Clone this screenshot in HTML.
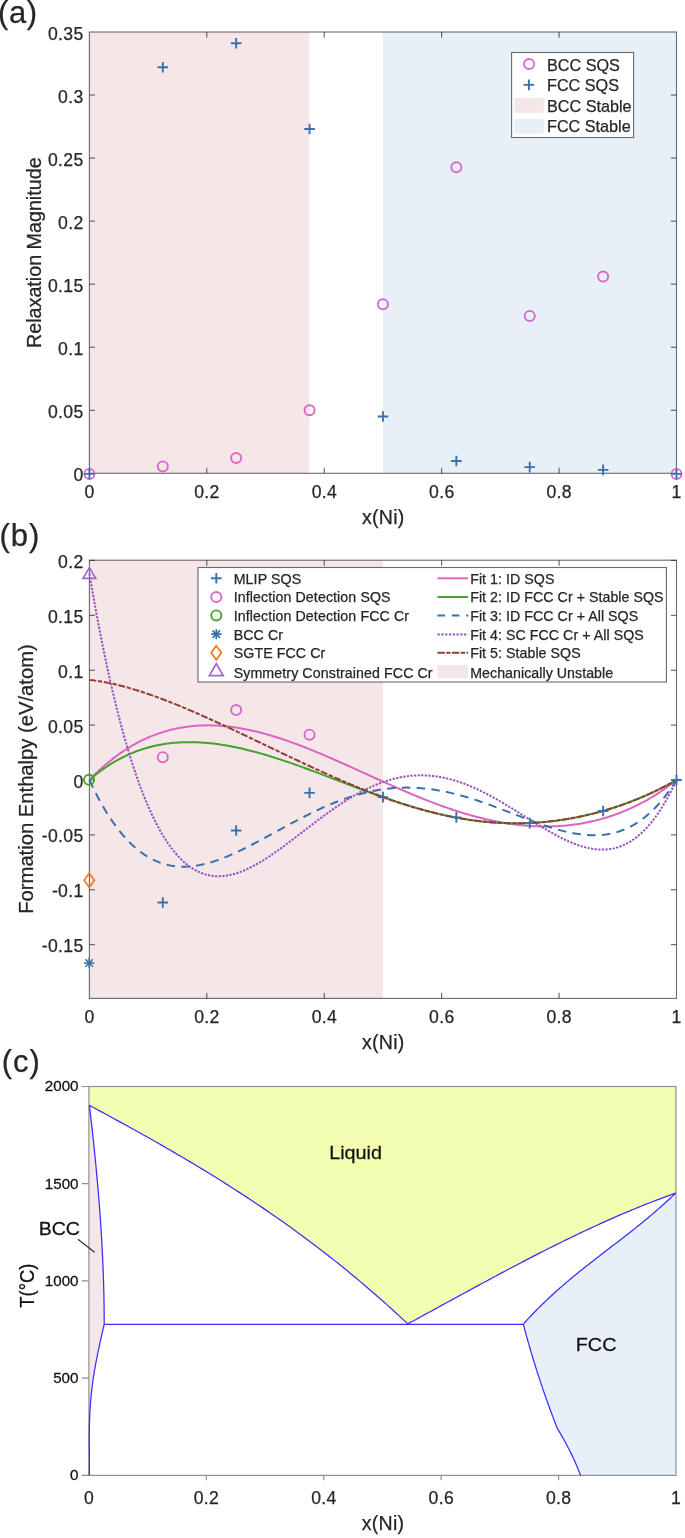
<!DOCTYPE html>
<html><head><meta charset="utf-8"><style>
html,body{margin:0;padding:0;background:#fff;}
svg{display:block;font-family:"Liberation Sans", sans-serif;}
text{stroke:currentColor;stroke-width:0.25px;}
</style></head><body>
<svg width="685" height="1538" viewBox="0 0 685 1538">
<defs><filter id="bl" x="0" y="0" width="685" height="1538" filterUnits="userSpaceOnUse" color-interpolation-filters="sRGB"><feGaussianBlur stdDeviation="0.4"/></filter></defs>
<g filter="url(#bl)">
<rect width="685" height="1538" fill="#fff"/>
<text x="-1.9" y="22.7" font-size="31" text-anchor="start" fill="#262626" color="#262626" letter-spacing="0.6" >(a)</text>
<rect x="89.4" y="32.0" width="220.16" height="441.3" fill="#f5e6e8"/>
<rect x="382.95" y="32.0" width="293.55" height="441.3" fill="#e8f0f7"/>
<path d="M206.82 473.3v-5.6M206.82 32.0v5.6M324.24 473.3v-5.6M324.24 32.0v5.6M441.66 473.3v-5.6M441.66 32.0v5.6M559.08 473.3v-5.6M559.08 32.0v5.6M89.4 410.26h5.6M676.5 410.26h-5.6M89.4 347.21h5.6M676.5 347.21h-5.6M89.4 284.17h5.6M676.5 284.17h-5.6M89.4 221.13h5.6M676.5 221.13h-5.6M89.4 158.09h5.6M676.5 158.09h-5.6M89.4 95.04h5.6M676.5 95.04h-5.6" stroke="#262626" stroke-opacity="0.8" stroke-width="1" fill="none"/>
<rect x="89.4" y="32.0" width="587.1" height="441.3" fill="none" stroke="#262626" stroke-opacity="0.68" stroke-width="1.1"/>
<text x="89.58" y="497.9" font-size="17.6" text-anchor="middle" fill="#262626" color="#262626" letter-spacing="0.35" >0</text>
<text x="207" y="497.9" font-size="17.6" text-anchor="middle" fill="#262626" color="#262626" letter-spacing="0.35" >0.2</text>
<text x="324.42" y="497.9" font-size="17.6" text-anchor="middle" fill="#262626" color="#262626" letter-spacing="0.35" >0.4</text>
<text x="441.84" y="497.9" font-size="17.6" text-anchor="middle" fill="#262626" color="#262626" letter-spacing="0.35" >0.6</text>
<text x="559.25" y="497.9" font-size="17.6" text-anchor="middle" fill="#262626" color="#262626" letter-spacing="0.35" >0.8</text>
<text x="676.67" y="497.9" font-size="17.6" text-anchor="middle" fill="#262626" color="#262626" letter-spacing="0.35" >1</text>
<text x="83.6" y="480.8" font-size="17.6" text-anchor="end" fill="#262626" color="#262626" letter-spacing="0.35" >0</text>
<text x="83.6" y="417.76" font-size="17.6" text-anchor="end" fill="#262626" color="#262626" letter-spacing="0.35" >0.05</text>
<text x="83.6" y="354.71" font-size="17.6" text-anchor="end" fill="#262626" color="#262626" letter-spacing="0.35" >0.1</text>
<text x="83.6" y="291.67" font-size="17.6" text-anchor="end" fill="#262626" color="#262626" letter-spacing="0.35" >0.15</text>
<text x="83.6" y="228.63" font-size="17.6" text-anchor="end" fill="#262626" color="#262626" letter-spacing="0.35" >0.2</text>
<text x="83.6" y="165.59" font-size="17.6" text-anchor="end" fill="#262626" color="#262626" letter-spacing="0.35" >0.25</text>
<text x="83.6" y="102.54" font-size="17.6" text-anchor="end" fill="#262626" color="#262626" letter-spacing="0.35" >0.3</text>
<text x="83.6" y="39.5" font-size="17.6" text-anchor="end" fill="#262626" color="#262626" letter-spacing="0.35" >0.35</text>
<text x="383.3" y="523.9" font-size="19.6" text-anchor="middle" fill="#262626" color="#262626" letter-spacing="0.2" >x(Ni)</text>
<text transform="translate(40.6 252.7) rotate(-90)" font-size="19.6" text-anchor="middle" fill="#262626" color="#262626" textLength="190.6" lengthAdjust="spacingAndGlyphs">Relaxation Magnitude</text>
<circle cx="89.4" cy="473.9" r="5.05" stroke="#d968cc" stroke-width="1.9" fill="none"/>
<circle cx="162.79" cy="466.46" r="5.05" stroke="#d968cc" stroke-width="1.9" fill="none"/>
<circle cx="236.18" cy="458.01" r="5.05" stroke="#d968cc" stroke-width="1.9" fill="none"/>
<circle cx="309.56" cy="410.23" r="5.05" stroke="#d968cc" stroke-width="1.9" fill="none"/>
<circle cx="382.95" cy="304.31" r="5.05" stroke="#d968cc" stroke-width="1.9" fill="none"/>
<circle cx="456.34" cy="167.26" r="5.05" stroke="#d968cc" stroke-width="1.9" fill="none"/>
<circle cx="529.73" cy="315.91" r="5.05" stroke="#d968cc" stroke-width="1.9" fill="none"/>
<circle cx="603.11" cy="276.58" r="5.05" stroke="#d968cc" stroke-width="1.9" fill="none"/>
<circle cx="676.5" cy="473.9" r="5.05" stroke="#d968cc" stroke-width="1.9" fill="none"/>
<path d="M84.1 473.9H94.7M89.4 468.6V479.2" stroke="#3970ad" stroke-width="1.9" fill="none"/>
<path d="M157.49 67.27H168.09M162.79 61.97V72.57" stroke="#3970ad" stroke-width="1.9" fill="none"/>
<path d="M230.88 43.32H241.48M236.18 38.02V48.62" stroke="#3970ad" stroke-width="1.9" fill="none"/>
<path d="M304.26 129.06H314.86M309.56 123.76V134.36" stroke="#3970ad" stroke-width="1.9" fill="none"/>
<path d="M377.65 416.53H388.25M382.95 411.23V421.83" stroke="#3970ad" stroke-width="1.9" fill="none"/>
<path d="M451.04 461.04H461.64M456.34 455.74V466.34" stroke="#3970ad" stroke-width="1.9" fill="none"/>
<path d="M524.43 467.09H535.02M529.73 461.79V472.39" stroke="#3970ad" stroke-width="1.9" fill="none"/>
<path d="M597.81 469.87H608.41M603.11 464.57V475.17" stroke="#3970ad" stroke-width="1.9" fill="none"/>
<path d="M671.2 473.9H681.8M676.5 468.6V479.2" stroke="#3970ad" stroke-width="1.9" fill="none"/>
<rect x="511.6" y="52.5" width="122" height="85" fill="#fff" stroke="#262626" stroke-opacity="0.68" stroke-width="1.1"/>
<circle cx="529.1" cy="64" r="5.05" stroke="#d968cc" stroke-width="1.9" fill="none"/>
<path d="M523.6 84.9H534.2M528.9 79.6V90.2" stroke="#3970ad" stroke-width="1.9" fill="none"/>
<rect x="514.3" y="98" width="29.5" height="14.8" fill="#f5e6e8"/>
<rect x="514.3" y="118.7" width="29.5" height="14.8" fill="#e8f0f7"/>
<text x="547" y="71" font-size="16.2" text-anchor="start" fill="#262626" color="#262626" >BCC SQS</text>
<text x="547" y="91.4" font-size="16.2" text-anchor="start" fill="#262626" color="#262626" >FCC SQS</text>
<text x="547" y="111.8" font-size="16.2" text-anchor="start" fill="#262626" color="#262626" >BCC Stable</text>
<text x="547" y="132.2" font-size="16.2" text-anchor="start" fill="#262626" color="#262626" >FCC Stable</text>
<text x="-0.4" y="546.2" font-size="31" text-anchor="start" fill="#262626" color="#262626" letter-spacing="0.9" >(b)</text>
<rect x="89.4" y="560.2" width="293.55" height="438.2" fill="#f5e6e8"/>
<path d="M206.82 998.4v-5.6M206.82 560.2v5.6M324.24 998.4v-5.6M324.24 560.2v5.6M441.66 998.4v-5.6M441.66 560.2v5.6M559.08 998.4v-5.6M559.08 560.2v5.6M89.4 944.7h5.6M676.5 944.7h-5.6M89.4 889.8h5.6M676.5 889.8h-5.6M89.4 834.9h5.6M676.5 834.9h-5.6M89.4 780h5.6M676.5 780h-5.6M89.4 725.1h5.6M676.5 725.1h-5.6M89.4 670.2h5.6M676.5 670.2h-5.6M89.4 615.3h5.6M676.5 615.3h-5.6M89.4 560.4h5.6M676.5 560.4h-5.6" stroke="#262626" stroke-opacity="0.8" stroke-width="1" fill="none"/>
<rect x="89.4" y="560.2" width="587.1" height="438.2" fill="none" stroke="#262626" stroke-opacity="0.68" stroke-width="1.1"/>
<text x="89.58" y="1022.6" font-size="17.6" text-anchor="middle" fill="#262626" color="#262626" letter-spacing="0.35" >0</text>
<text x="207" y="1022.6" font-size="17.6" text-anchor="middle" fill="#262626" color="#262626" letter-spacing="0.35" >0.2</text>
<text x="324.42" y="1022.6" font-size="17.6" text-anchor="middle" fill="#262626" color="#262626" letter-spacing="0.35" >0.4</text>
<text x="441.84" y="1022.6" font-size="17.6" text-anchor="middle" fill="#262626" color="#262626" letter-spacing="0.35" >0.6</text>
<text x="559.25" y="1022.6" font-size="17.6" text-anchor="middle" fill="#262626" color="#262626" letter-spacing="0.35" >0.8</text>
<text x="676.67" y="1022.6" font-size="17.6" text-anchor="middle" fill="#262626" color="#262626" letter-spacing="0.35" >1</text>
<text x="83.6" y="952.2" font-size="17.6" text-anchor="end" fill="#262626" color="#262626" letter-spacing="0.35" >-0.15</text>
<text x="83.6" y="897.3" font-size="17.6" text-anchor="end" fill="#262626" color="#262626" letter-spacing="0.35" >-0.1</text>
<text x="83.6" y="842.4" font-size="17.6" text-anchor="end" fill="#262626" color="#262626" letter-spacing="0.35" >-0.05</text>
<text x="83.6" y="787.5" font-size="17.6" text-anchor="end" fill="#262626" color="#262626" letter-spacing="0.35" >0</text>
<text x="83.6" y="732.6" font-size="17.6" text-anchor="end" fill="#262626" color="#262626" letter-spacing="0.35" >0.05</text>
<text x="83.6" y="677.7" font-size="17.6" text-anchor="end" fill="#262626" color="#262626" letter-spacing="0.35" >0.1</text>
<text x="83.6" y="622.8" font-size="17.6" text-anchor="end" fill="#262626" color="#262626" letter-spacing="0.35" >0.15</text>
<text x="83.6" y="567.9" font-size="17.6" text-anchor="end" fill="#262626" color="#262626" letter-spacing="0.35" >0.2</text>
<text x="383.3" y="1049.2" font-size="19.6" text-anchor="middle" fill="#262626" color="#262626" letter-spacing="0.2" >x(Ni)</text>
<text transform="translate(33.4 779) rotate(-90)" font-size="19.6" text-anchor="middle" fill="#262626" color="#262626" textLength="269.5" lengthAdjust="spacingAndGlyphs">Formation Enthalpy (eV/atom)</text>
<g fill="none" stroke-width="2" stroke-linejoin="round">
<path d="M89.4 780 L91.36 777.97 L93.33 775.99 L95.29 774.06 L97.25 772.17 L99.22 770.33 L101.18 768.53 L103.14 766.77 L105.11 765.06 L107.07 763.4 L109.04 761.77 L111 760.19 L112.96 758.65 L114.93 757.15 L116.89 755.69 L118.85 754.27 L120.82 752.89 L122.78 751.55 L124.74 750.25 L126.71 748.98 L128.67 747.76 L130.63 746.57 L132.6 745.42 L134.56 744.31 L136.53 743.23 L138.49 742.19 L140.45 741.18 L142.42 740.21 L144.38 739.27 L146.34 738.37 L148.31 737.5 L150.27 736.67 L152.23 735.86 L154.2 735.09 L156.16 734.36 L158.12 733.65 L160.09 732.98 L162.05 732.34 L164.01 731.72 L165.98 731.14 L167.94 730.59 L169.91 730.07 L171.87 729.58 L173.83 729.12 L175.8 728.68 L177.76 728.28 L179.72 727.9 L181.69 727.55 L183.65 727.23 L185.61 726.93 L187.58 726.66 L189.54 726.42 L191.5 726.2 L193.47 726.01 L195.43 725.85 L197.39 725.71 L199.36 725.59 L201.32 725.5 L203.29 725.43 L205.25 725.39 L207.21 725.37 L209.18 725.37 L211.14 725.4 L213.1 725.45 L215.07 725.52 L217.03 725.61 L218.99 725.72 L220.96 725.86 L222.92 726.02 L224.88 726.19 L226.85 726.39 L228.81 726.61 L230.78 726.85 L232.74 727.1 L234.7 727.38 L236.67 727.67 L238.63 727.99 L240.59 728.32 L242.56 728.67 L244.52 729.03 L246.48 729.42 L248.45 729.82 L250.41 730.24 L252.37 730.67 L254.34 731.12 L256.3 731.59 L258.26 732.07 L260.23 732.57 L262.19 733.08 L264.16 733.61 L266.12 734.15 L268.08 734.7 L270.05 735.27 L272.01 735.86 L273.97 736.45 L275.94 737.06 L277.9 737.68 L279.86 738.32 L281.83 738.96 L283.79 739.62 L285.75 740.29 L287.72 740.97 L289.68 741.66 L291.65 742.36 L293.61 743.07 L295.57 743.79 L297.54 744.52 L299.5 745.27 L301.46 746.02 L303.43 746.77 L305.39 747.54 L307.35 748.32 L309.32 749.1 L311.28 749.89 L313.24 750.69 L315.21 751.5 L317.17 752.31 L319.13 753.13 L321.1 753.95 L323.06 754.78 L325.03 755.62 L326.99 756.46 L328.95 757.31 L330.92 758.16 L332.88 759.02 L334.84 759.88 L336.81 760.75 L338.77 761.62 L340.73 762.49 L342.7 763.37 L344.66 764.25 L346.62 765.13 L348.59 766.01 L350.55 766.9 L352.52 767.79 L354.48 768.68 L356.44 769.57 L358.41 770.46 L360.37 771.35 L362.33 772.24 L364.3 773.14 L366.26 774.03 L368.22 774.93 L370.19 775.82 L372.15 776.71 L374.11 777.6 L376.08 778.49 L378.04 779.38 L380 780.27 L381.97 781.15 L383.93 782.04 L385.9 782.92 L387.86 783.79 L389.82 784.67 L391.79 785.54 L393.75 786.41 L395.71 787.27 L397.68 788.13 L399.64 788.98 L401.6 789.84 L403.57 790.68 L405.53 791.52 L407.49 792.36 L409.46 793.19 L411.42 794.02 L413.38 794.84 L415.35 795.65 L417.31 796.46 L419.28 797.26 L421.24 798.05 L423.2 798.84 L425.17 799.62 L427.13 800.39 L429.09 801.16 L431.06 801.92 L433.02 802.67 L434.98 803.41 L436.95 804.14 L438.91 804.87 L440.87 805.58 L442.84 806.29 L444.8 806.99 L446.77 807.68 L448.73 808.36 L450.69 809.03 L452.66 809.69 L454.62 810.34 L456.58 810.97 L458.55 811.6 L460.51 812.22 L462.47 812.83 L464.44 813.42 L466.4 814.01 L468.36 814.58 L470.33 815.15 L472.29 815.7 L474.25 816.24 L476.22 816.76 L478.18 817.28 L480.15 817.78 L482.11 818.27 L484.07 818.75 L486.04 819.21 L488 819.66 L489.96 820.1 L491.93 820.52 L493.89 820.94 L495.85 821.33 L497.82 821.72 L499.78 822.09 L501.74 822.45 L503.71 822.79 L505.67 823.12 L507.64 823.43 L509.6 823.73 L511.56 824.01 L513.53 824.28 L515.49 824.54 L517.45 824.78 L519.42 825 L521.38 825.21 L523.34 825.4 L525.31 825.58 L527.27 825.74 L529.23 825.89 L531.2 826.02 L533.16 826.13 L535.12 826.23 L537.09 826.31 L539.05 826.37 L541.02 826.42 L542.98 826.45 L544.94 826.46 L546.91 826.46 L548.87 826.44 L550.83 826.4 L552.8 826.34 L554.76 826.27 L556.72 826.18 L558.69 826.07 L560.65 825.94 L562.61 825.8 L564.58 825.63 L566.54 825.45 L568.51 825.25 L570.47 825.03 L572.43 824.79 L574.4 824.54 L576.36 824.26 L578.32 823.96 L580.29 823.65 L582.25 823.31 L584.21 822.96 L586.18 822.58 L588.14 822.19 L590.1 821.77 L592.07 821.34 L594.03 820.88 L595.99 820.4 L597.96 819.91 L599.92 819.39 L601.89 818.85 L603.85 818.28 L605.81 817.7 L607.78 817.09 L609.74 816.47 L611.7 815.81 L613.67 815.14 L615.63 814.45 L617.59 813.73 L619.56 812.98 L621.52 812.22 L623.48 811.43 L625.45 810.61 L627.41 809.78 L629.37 808.91 L631.34 808.03 L633.3 807.11 L635.27 806.18 L637.23 805.21 L639.19 804.22 L641.16 803.21 L643.12 802.16 L645.08 801.09 L647.05 800 L649.01 798.87 L650.97 797.72 L652.94 796.54 L654.9 795.33 L656.86 794.09 L658.83 792.82 L660.79 791.52 L662.76 790.19 L664.72 788.83 L666.68 787.44 L668.65 786.02 L670.61 784.56 L672.57 783.08 L674.54 781.56 L676.5 780" stroke="#dc64c2"/>
<path d="M89.4 780 L91.36 778.29 L93.33 776.64 L95.29 775.03 L97.25 773.47 L99.22 771.96 L101.18 770.5 L103.14 769.08 L105.11 767.71 L107.07 766.38 L109.04 765.09 L111 763.85 L112.96 762.65 L114.93 761.49 L116.89 760.38 L118.85 759.3 L120.82 758.26 L122.78 757.26 L124.74 756.29 L126.71 755.37 L128.67 754.48 L130.63 753.63 L132.6 752.81 L134.56 752.03 L136.53 751.28 L138.49 750.56 L140.45 749.88 L142.42 749.23 L144.38 748.62 L146.34 748.03 L148.31 747.48 L150.27 746.95 L152.23 746.46 L154.2 745.99 L156.16 745.56 L158.12 745.15 L160.09 744.77 L162.05 744.42 L164.01 744.09 L165.98 743.79 L167.94 743.52 L169.91 743.28 L171.87 743.05 L173.83 742.86 L175.8 742.69 L177.76 742.54 L179.72 742.41 L181.69 742.31 L183.65 742.24 L185.61 742.18 L187.58 742.15 L189.54 742.14 L191.5 742.15 L193.47 742.18 L195.43 742.23 L197.39 742.3 L199.36 742.39 L201.32 742.5 L203.29 742.63 L205.25 742.78 L207.21 742.95 L209.18 743.14 L211.14 743.34 L213.1 743.56 L215.07 743.8 L217.03 744.06 L218.99 744.33 L220.96 744.62 L222.92 744.93 L224.88 745.25 L226.85 745.58 L228.81 745.93 L230.78 746.3 L232.74 746.68 L234.7 747.07 L236.67 747.48 L238.63 747.9 L240.59 748.34 L242.56 748.78 L244.52 749.24 L246.48 749.72 L248.45 750.2 L250.41 750.7 L252.37 751.21 L254.34 751.73 L256.3 752.26 L258.26 752.8 L260.23 753.35 L262.19 753.91 L264.16 754.48 L266.12 755.06 L268.08 755.65 L270.05 756.25 L272.01 756.86 L273.97 757.48 L275.94 758.1 L277.9 758.73 L279.86 759.37 L281.83 760.02 L283.79 760.67 L285.75 761.34 L287.72 762 L289.68 762.68 L291.65 763.36 L293.61 764.05 L295.57 764.74 L297.54 765.43 L299.5 766.14 L301.46 766.84 L303.43 767.55 L305.39 768.27 L307.35 768.99 L309.32 769.71 L311.28 770.44 L313.24 771.17 L315.21 771.9 L317.17 772.64 L319.13 773.38 L321.1 774.12 L323.06 774.86 L325.03 775.6 L326.99 776.35 L328.95 777.1 L330.92 777.84 L332.88 778.59 L334.84 779.34 L336.81 780.09 L338.77 780.84 L340.73 781.59 L342.7 782.34 L344.66 783.08 L346.62 783.83 L348.59 784.58 L350.55 785.32 L352.52 786.06 L354.48 786.8 L356.44 787.54 L358.41 788.28 L360.37 789.01 L362.33 789.74 L364.3 790.47 L366.26 791.19 L368.22 791.92 L370.19 792.63 L372.15 793.35 L374.11 794.06 L376.08 794.76 L378.04 795.46 L380 796.16 L381.97 796.85 L383.93 797.53 L385.9 798.22 L387.86 798.89 L389.82 799.56 L391.79 800.22 L393.75 800.88 L395.71 801.53 L397.68 802.18 L399.64 802.81 L401.6 803.44 L403.57 804.07 L405.53 804.68 L407.49 805.29 L409.46 805.89 L411.42 806.49 L413.38 807.07 L415.35 807.65 L417.31 808.22 L419.28 808.78 L421.24 809.33 L423.2 809.88 L425.17 810.41 L427.13 810.94 L429.09 811.46 L431.06 811.96 L433.02 812.46 L434.98 812.95 L436.95 813.43 L438.91 813.89 L440.87 814.35 L442.84 814.8 L444.8 815.24 L446.77 815.67 L448.73 816.08 L450.69 816.49 L452.66 816.89 L454.62 817.27 L456.58 817.65 L458.55 818.01 L460.51 818.36 L462.47 818.7 L464.44 819.03 L466.4 819.35 L468.36 819.65 L470.33 819.95 L472.29 820.23 L474.25 820.5 L476.22 820.76 L478.18 821.01 L480.15 821.24 L482.11 821.47 L484.07 821.68 L486.04 821.88 L488 822.06 L489.96 822.24 L491.93 822.4 L493.89 822.55 L495.85 822.69 L497.82 822.81 L499.78 822.93 L501.74 823.03 L503.71 823.11 L505.67 823.19 L507.64 823.25 L509.6 823.3 L511.56 823.34 L513.53 823.36 L515.49 823.37 L517.45 823.37 L519.42 823.36 L521.38 823.33 L523.34 823.29 L525.31 823.24 L527.27 823.17 L529.23 823.09 L531.2 823 L533.16 822.9 L535.12 822.78 L537.09 822.65 L539.05 822.51 L541.02 822.36 L542.98 822.19 L544.94 822.01 L546.91 821.81 L548.87 821.61 L550.83 821.39 L552.8 821.16 L554.76 820.91 L556.72 820.65 L558.69 820.38 L560.65 820.1 L562.61 819.81 L564.58 819.5 L566.54 819.18 L568.51 818.84 L570.47 818.5 L572.43 818.14 L574.4 817.77 L576.36 817.38 L578.32 816.99 L580.29 816.58 L582.25 816.16 L584.21 815.72 L586.18 815.27 L588.14 814.81 L590.1 814.34 L592.07 813.86 L594.03 813.36 L595.99 812.85 L597.96 812.32 L599.92 811.79 L601.89 811.24 L603.85 810.68 L605.81 810.1 L607.78 809.52 L609.74 808.92 L611.7 808.3 L613.67 807.68 L615.63 807.04 L617.59 806.38 L619.56 805.72 L621.52 805.04 L623.48 804.35 L625.45 803.64 L627.41 802.92 L629.37 802.19 L631.34 801.44 L633.3 800.68 L635.27 799.9 L637.23 799.11 L639.19 798.31 L641.16 797.49 L643.12 796.65 L645.08 795.81 L647.05 794.94 L649.01 794.06 L650.97 793.17 L652.94 792.26 L654.9 791.33 L656.86 790.39 L658.83 789.43 L660.79 788.45 L662.76 787.46 L664.72 786.45 L666.68 785.42 L668.65 784.38 L670.61 783.31 L672.57 782.23 L674.54 781.12 L676.5 780" stroke="#46a22d"/>
<path d="M89.4 780 L91.36 784.18 L93.33 788.24 L95.29 792.17 L97.25 795.98 L99.22 799.67 L101.18 803.23 L103.14 806.67 L105.11 810 L107.07 813.21 L109.04 816.31 L111 819.3 L112.96 822.18 L114.93 824.94 L116.89 827.61 L118.85 830.16 L120.82 832.62 L122.78 834.97 L124.74 837.22 L126.71 839.38 L128.67 841.44 L130.63 843.4 L132.6 845.27 L134.56 847.05 L136.53 848.75 L138.49 850.35 L140.45 851.87 L142.42 853.3 L144.38 854.65 L146.34 855.92 L148.31 857.11 L150.27 858.22 L152.23 859.25 L154.2 860.21 L156.16 861.1 L158.12 861.92 L160.09 862.66 L162.05 863.34 L164.01 863.95 L165.98 864.49 L167.94 864.97 L169.91 865.39 L171.87 865.75 L173.83 866.04 L175.8 866.28 L177.76 866.46 L179.72 866.59 L181.69 866.66 L183.65 866.69 L185.61 866.66 L187.58 866.58 L189.54 866.45 L191.5 866.27 L193.47 866.05 L195.43 865.79 L197.39 865.48 L199.36 865.13 L201.32 864.74 L203.29 864.32 L205.25 863.85 L207.21 863.35 L209.18 862.81 L211.14 862.24 L213.1 861.64 L215.07 861 L217.03 860.34 L218.99 859.65 L220.96 858.92 L222.92 858.18 L224.88 857.4 L226.85 856.6 L228.81 855.78 L230.78 854.94 L232.74 854.07 L234.7 853.19 L236.67 852.28 L238.63 851.36 L240.59 850.42 L242.56 849.47 L244.52 848.5 L246.48 847.52 L248.45 846.52 L250.41 845.51 L252.37 844.5 L254.34 843.47 L256.3 842.43 L258.26 841.38 L260.23 840.33 L262.19 839.27 L264.16 838.21 L266.12 837.14 L268.08 836.07 L270.05 834.99 L272.01 833.91 L273.97 832.83 L275.94 831.75 L277.9 830.67 L279.86 829.6 L281.83 828.52 L283.79 827.45 L285.75 826.38 L287.72 825.31 L289.68 824.25 L291.65 823.19 L293.61 822.14 L295.57 821.1 L297.54 820.06 L299.5 819.03 L301.46 818.02 L303.43 817.01 L305.39 816 L307.35 815.02 L309.32 814.04 L311.28 813.07 L313.24 812.11 L315.21 811.17 L317.17 810.24 L319.13 809.32 L321.1 808.42 L323.06 807.53 L325.03 806.66 L326.99 805.8 L328.95 804.96 L330.92 804.14 L332.88 803.33 L334.84 802.54 L336.81 801.76 L338.77 801.01 L340.73 800.27 L342.7 799.55 L344.66 798.85 L346.62 798.17 L348.59 797.51 L350.55 796.86 L352.52 796.24 L354.48 795.64 L356.44 795.06 L358.41 794.5 L360.37 793.95 L362.33 793.44 L364.3 792.94 L366.26 792.46 L368.22 792.01 L370.19 791.57 L372.15 791.16 L374.11 790.77 L376.08 790.41 L378.04 790.06 L380 789.74 L381.97 789.44 L383.93 789.17 L385.9 788.91 L387.86 788.68 L389.82 788.47 L391.79 788.29 L393.75 788.12 L395.71 787.98 L397.68 787.87 L399.64 787.77 L401.6 787.7 L403.57 787.65 L405.53 787.62 L407.49 787.62 L409.46 787.64 L411.42 787.68 L413.38 787.74 L415.35 787.82 L417.31 787.93 L419.28 788.06 L421.24 788.2 L423.2 788.38 L425.17 788.57 L427.13 788.78 L429.09 789.01 L431.06 789.27 L433.02 789.54 L434.98 789.84 L436.95 790.15 L438.91 790.49 L440.87 790.84 L442.84 791.21 L444.8 791.61 L446.77 792.02 L448.73 792.44 L450.69 792.89 L452.66 793.35 L454.62 793.83 L456.58 794.33 L458.55 794.84 L460.51 795.37 L462.47 795.92 L464.44 796.48 L466.4 797.05 L468.36 797.64 L470.33 798.24 L472.29 798.86 L474.25 799.48 L476.22 800.12 L478.18 800.78 L480.15 801.44 L482.11 802.11 L484.07 802.8 L486.04 803.49 L488 804.19 L489.96 804.91 L491.93 805.63 L493.89 806.35 L495.85 807.09 L497.82 807.83 L499.78 808.57 L501.74 809.32 L503.71 810.08 L505.67 810.83 L507.64 811.59 L509.6 812.36 L511.56 813.12 L513.53 813.89 L515.49 814.65 L517.45 815.42 L519.42 816.18 L521.38 816.94 L523.34 817.7 L525.31 818.45 L527.27 819.2 L529.23 819.94 L531.2 820.68 L533.16 821.41 L535.12 822.13 L537.09 822.84 L539.05 823.55 L541.02 824.24 L542.98 824.92 L544.94 825.59 L546.91 826.24 L548.87 826.89 L550.83 827.51 L552.8 828.12 L554.76 828.71 L556.72 829.29 L558.69 829.84 L560.65 830.37 L562.61 830.89 L564.58 831.38 L566.54 831.84 L568.51 832.29 L570.47 832.7 L572.43 833.09 L574.4 833.45 L576.36 833.79 L578.32 834.09 L580.29 834.36 L582.25 834.6 L584.21 834.8 L586.18 834.97 L588.14 835.1 L590.1 835.2 L592.07 835.26 L594.03 835.27 L595.99 835.25 L597.96 835.18 L599.92 835.07 L601.89 834.91 L603.85 834.71 L605.81 834.45 L607.78 834.15 L609.74 833.8 L611.7 833.39 L613.67 832.93 L615.63 832.42 L617.59 831.85 L619.56 831.22 L621.52 830.53 L623.48 829.77 L625.45 828.96 L627.41 828.08 L629.37 827.13 L631.34 826.12 L633.3 825.04 L635.27 823.88 L637.23 822.66 L639.19 821.35 L641.16 819.97 L643.12 818.52 L645.08 816.98 L647.05 815.36 L649.01 813.66 L650.97 811.88 L652.94 810 L654.9 808.04 L656.86 805.98 L658.83 803.84 L660.79 801.6 L662.76 799.26 L664.72 796.82 L666.68 794.28 L668.65 791.64 L670.61 788.89 L672.57 786.04 L674.54 783.08 L676.5 780" stroke="#3970ad" stroke-dasharray="8.5 6.3"/>
<path d="M89.4 573.61 L91.36 585.08 L93.33 596.25 L95.29 607.13 L97.25 617.73 L99.22 628.04 L101.18 638.08 L103.14 647.85 L105.11 657.35 L107.07 666.58 L109.04 675.56 L111 684.27 L112.96 692.74 L114.93 700.96 L116.89 708.94 L118.85 716.68 L120.82 724.18 L122.78 731.45 L124.74 738.49 L126.71 745.31 L128.67 751.91 L130.63 758.29 L132.6 764.46 L134.56 770.42 L136.53 776.18 L138.49 781.73 L140.45 787.09 L142.42 792.25 L144.38 797.22 L146.34 802.01 L148.31 806.6 L150.27 811.02 L152.23 815.27 L154.2 819.33 L156.16 823.23 L158.12 826.96 L160.09 830.53 L162.05 833.93 L164.01 837.18 L165.98 840.27 L167.94 843.22 L169.91 846.01 L171.87 848.66 L173.83 851.17 L175.8 853.53 L177.76 855.77 L179.72 857.87 L181.69 859.84 L183.65 861.68 L185.61 863.4 L187.58 864.99 L189.54 866.47 L191.5 867.83 L193.47 869.08 L195.43 870.22 L197.39 871.25 L199.36 872.18 L201.32 873 L203.29 873.73 L205.25 874.36 L207.21 874.89 L209.18 875.33 L211.14 875.68 L213.1 875.94 L215.07 876.12 L217.03 876.22 L218.99 876.24 L220.96 876.18 L222.92 876.04 L224.88 875.84 L226.85 875.56 L228.81 875.21 L230.78 874.8 L232.74 874.32 L234.7 873.78 L236.67 873.19 L238.63 872.53 L240.59 871.82 L242.56 871.06 L244.52 870.25 L246.48 869.38 L248.45 868.48 L250.41 867.52 L252.37 866.52 L254.34 865.48 L256.3 864.41 L258.26 863.29 L260.23 862.14 L262.19 860.95 L264.16 859.74 L266.12 858.49 L268.08 857.22 L270.05 855.92 L272.01 854.59 L273.97 853.24 L275.94 851.87 L277.9 850.48 L279.86 849.07 L281.83 847.64 L283.79 846.2 L285.75 844.75 L287.72 843.28 L289.68 841.8 L291.65 840.32 L293.61 838.82 L295.57 837.32 L297.54 835.82 L299.5 834.31 L301.46 832.8 L303.43 831.29 L305.39 829.78 L307.35 828.27 L309.32 826.76 L311.28 825.26 L313.24 823.76 L315.21 822.27 L317.17 820.79 L319.13 819.31 L321.1 817.85 L323.06 816.4 L325.03 814.96 L326.99 813.53 L328.95 812.12 L330.92 810.72 L332.88 809.34 L334.84 807.98 L336.81 806.63 L338.77 805.3 L340.73 804 L342.7 802.71 L344.66 801.45 L346.62 800.21 L348.59 798.99 L350.55 797.79 L352.52 796.62 L354.48 795.48 L356.44 794.36 L358.41 793.27 L360.37 792.2 L362.33 791.17 L364.3 790.16 L366.26 789.18 L368.22 788.23 L370.19 787.31 L372.15 786.43 L374.11 785.57 L376.08 784.75 L378.04 783.95 L380 783.2 L381.97 782.47 L383.93 781.78 L385.9 781.12 L387.86 780.49 L389.82 779.9 L391.79 779.35 L393.75 778.83 L395.71 778.34 L397.68 777.9 L399.64 777.48 L401.6 777.1 L403.57 776.76 L405.53 776.46 L407.49 776.19 L409.46 775.96 L411.42 775.76 L413.38 775.6 L415.35 775.48 L417.31 775.39 L419.28 775.34 L421.24 775.33 L423.2 775.35 L425.17 775.41 L427.13 775.5 L429.09 775.63 L431.06 775.8 L433.02 776 L434.98 776.24 L436.95 776.51 L438.91 776.81 L440.87 777.16 L442.84 777.53 L444.8 777.94 L446.77 778.38 L448.73 778.86 L450.69 779.37 L452.66 779.91 L454.62 780.48 L456.58 781.09 L458.55 781.73 L460.51 782.39 L462.47 783.09 L464.44 783.81 L466.4 784.57 L468.36 785.35 L470.33 786.16 L472.29 787 L474.25 787.86 L476.22 788.75 L478.18 789.66 L480.15 790.6 L482.11 791.56 L484.07 792.55 L486.04 793.55 L488 794.58 L489.96 795.62 L491.93 796.69 L493.89 797.77 L495.85 798.87 L497.82 799.99 L499.78 801.13 L501.74 802.27 L503.71 803.43 L505.67 804.61 L507.64 805.79 L509.6 806.99 L511.56 808.19 L513.53 809.4 L515.49 810.62 L517.45 811.84 L519.42 813.07 L521.38 814.31 L523.34 815.54 L525.31 816.78 L527.27 818.01 L529.23 819.24 L531.2 820.47 L533.16 821.7 L535.12 822.92 L537.09 824.13 L539.05 825.33 L541.02 826.52 L542.98 827.71 L544.94 828.88 L546.91 830.03 L548.87 831.17 L550.83 832.29 L552.8 833.39 L554.76 834.47 L556.72 835.53 L558.69 836.56 L560.65 837.57 L562.61 838.55 L564.58 839.5 L566.54 840.42 L568.51 841.31 L570.47 842.16 L572.43 842.98 L574.4 843.76 L576.36 844.5 L578.32 845.2 L580.29 845.85 L582.25 846.46 L584.21 847.02 L586.18 847.53 L588.14 847.99 L590.1 848.4 L592.07 848.75 L594.03 849.05 L595.99 849.28 L597.96 849.46 L599.92 849.57 L601.89 849.62 L603.85 849.59 L605.81 849.5 L607.78 849.34 L609.74 849.1 L611.7 848.79 L613.67 848.39 L615.63 847.92 L617.59 847.36 L619.56 846.72 L621.52 845.99 L623.48 845.17 L625.45 844.26 L627.41 843.25 L629.37 842.15 L631.34 840.94 L633.3 839.64 L635.27 838.23 L637.23 836.71 L639.19 835.08 L641.16 833.34 L643.12 831.49 L645.08 829.52 L647.05 827.43 L649.01 825.22 L650.97 822.89 L652.94 820.43 L654.9 817.83 L656.86 815.11 L658.83 812.25 L660.79 809.25 L662.76 806.12 L664.72 802.84 L666.68 799.41 L668.65 795.84 L670.61 792.11 L672.57 788.23 L674.54 784.19 L676.5 780" stroke="#9450c0" stroke-dasharray="2.2 1.4"/>
<path d="M89.4 679.9 L91.36 680.12 L93.33 680.36 L95.29 680.62 L97.25 680.9 L99.22 681.2 L101.18 681.53 L103.14 681.87 L105.11 682.23 L107.07 682.61 L109.04 683 L111 683.42 L112.96 683.85 L114.93 684.3 L116.89 684.76 L118.85 685.24 L120.82 685.73 L122.78 686.24 L124.74 686.76 L126.71 687.3 L128.67 687.85 L130.63 688.42 L132.6 689 L134.56 689.59 L136.53 690.19 L138.49 690.8 L140.45 691.43 L142.42 692.07 L144.38 692.72 L146.34 693.38 L148.31 694.05 L150.27 694.73 L152.23 695.42 L154.2 696.12 L156.16 696.83 L158.12 697.54 L160.09 698.27 L162.05 699.01 L164.01 699.75 L165.98 700.51 L167.94 701.27 L169.91 702.04 L171.87 702.81 L173.83 703.6 L175.8 704.39 L177.76 705.18 L179.72 705.99 L181.69 706.8 L183.65 707.62 L185.61 708.44 L187.58 709.27 L189.54 710.11 L191.5 710.95 L193.47 711.79 L195.43 712.64 L197.39 713.5 L199.36 714.36 L201.32 715.23 L203.29 716.1 L205.25 716.98 L207.21 717.86 L209.18 718.74 L211.14 719.63 L213.1 720.52 L215.07 721.41 L217.03 722.31 L218.99 723.22 L220.96 724.12 L222.92 725.03 L224.88 725.94 L226.85 726.85 L228.81 727.77 L230.78 728.69 L232.74 729.61 L234.7 730.54 L236.67 731.46 L238.63 732.39 L240.59 733.32 L242.56 734.25 L244.52 735.18 L246.48 736.12 L248.45 737.06 L250.41 737.99 L252.37 738.93 L254.34 739.87 L256.3 740.81 L258.26 741.75 L260.23 742.69 L262.19 743.63 L264.16 744.57 L266.12 745.52 L268.08 746.46 L270.05 747.4 L272.01 748.34 L273.97 749.28 L275.94 750.22 L277.9 751.16 L279.86 752.1 L281.83 753.04 L283.79 753.98 L285.75 754.91 L287.72 755.85 L289.68 756.78 L291.65 757.71 L293.61 758.64 L295.57 759.57 L297.54 760.5 L299.5 761.42 L301.46 762.34 L303.43 763.26 L305.39 764.18 L307.35 765.1 L309.32 766.01 L311.28 766.92 L313.24 767.83 L315.21 768.73 L317.17 769.63 L319.13 770.53 L321.1 771.42 L323.06 772.31 L325.03 773.2 L326.99 774.08 L328.95 774.96 L330.92 775.83 L332.88 776.7 L334.84 777.57 L336.81 778.43 L338.77 779.29 L340.73 780.14 L342.7 780.98 L344.66 781.83 L346.62 782.66 L348.59 783.5 L350.55 784.32 L352.52 785.14 L354.48 785.96 L356.44 786.77 L358.41 787.57 L360.37 788.37 L362.33 789.16 L364.3 789.95 L366.26 790.72 L368.22 791.5 L370.19 792.26 L372.15 793.02 L374.11 793.77 L376.08 794.52 L378.04 795.26 L380 795.99 L381.97 796.71 L383.93 797.43 L385.9 798.14 L387.86 798.84 L389.82 799.53 L391.79 800.21 L393.75 800.89 L395.71 801.56 L397.68 802.22 L399.64 802.87 L401.6 803.52 L403.57 804.15 L405.53 804.78 L407.49 805.39 L409.46 806 L411.42 806.6 L413.38 807.19 L415.35 807.77 L417.31 808.35 L419.28 808.91 L421.24 809.46 L423.2 810 L425.17 810.54 L427.13 811.06 L429.09 811.58 L431.06 812.08 L433.02 812.57 L434.98 813.06 L436.95 813.53 L438.91 813.99 L440.87 814.44 L442.84 814.89 L444.8 815.32 L446.77 815.74 L448.73 816.15 L450.69 816.55 L452.66 816.94 L454.62 817.31 L456.58 817.68 L458.55 818.04 L460.51 818.38 L462.47 818.71 L464.44 819.03 L466.4 819.34 L468.36 819.64 L470.33 819.93 L472.29 820.2 L474.25 820.47 L476.22 820.72 L478.18 820.96 L480.15 821.19 L482.11 821.41 L484.07 821.61 L486.04 821.8 L488 821.99 L489.96 822.16 L491.93 822.31 L493.89 822.46 L495.85 822.59 L497.82 822.71 L499.78 822.82 L501.74 822.92 L503.71 823 L505.67 823.07 L507.64 823.13 L509.6 823.18 L511.56 823.22 L513.53 823.24 L515.49 823.25 L517.45 823.25 L519.42 823.23 L521.38 823.21 L523.34 823.17 L525.31 823.11 L527.27 823.05 L529.23 822.97 L531.2 822.88 L533.16 822.78 L535.12 822.67 L537.09 822.54 L539.05 822.4 L541.02 822.25 L542.98 822.08 L544.94 821.91 L546.91 821.72 L548.87 821.51 L550.83 821.3 L552.8 821.07 L554.76 820.83 L556.72 820.58 L558.69 820.31 L560.65 820.03 L562.61 819.74 L564.58 819.44 L566.54 819.12 L568.51 818.79 L570.47 818.45 L572.43 818.1 L574.4 817.73 L576.36 817.35 L578.32 816.96 L580.29 816.55 L582.25 816.13 L584.21 815.7 L586.18 815.26 L588.14 814.8 L590.1 814.33 L592.07 813.85 L594.03 813.35 L595.99 812.85 L597.96 812.33 L599.92 811.79 L601.89 811.24 L603.85 810.68 L605.81 810.11 L607.78 809.52 L609.74 808.92 L611.7 808.31 L613.67 807.69 L615.63 807.05 L617.59 806.39 L619.56 805.73 L621.52 805.05 L623.48 804.35 L625.45 803.65 L627.41 802.92 L629.37 802.19 L631.34 801.44 L633.3 800.68 L635.27 799.9 L637.23 799.11 L639.19 798.3 L641.16 797.48 L643.12 796.64 L645.08 795.79 L647.05 794.93 L649.01 794.05 L650.97 793.15 L652.94 792.24 L654.9 791.31 L656.86 790.37 L658.83 789.41 L660.79 788.43 L662.76 787.44 L664.72 786.43 L666.68 785.4 L668.65 784.36 L670.61 783.29 L672.57 782.21 L674.54 781.12 L676.5 780" stroke="#933c36" stroke-dasharray="7 1.7 4.3 1.7"/>
</g>
<path d="M157.49 902.54H168.09M162.79 897.24V907.84" stroke="#3970ad" stroke-width="1.9" fill="none"/>
<path d="M230.88 830.51H241.48M236.18 825.21V835.81" stroke="#3970ad" stroke-width="1.9" fill="none"/>
<path d="M304.26 792.85H314.86M309.56 787.55V798.15" stroke="#3970ad" stroke-width="1.9" fill="none"/>
<path d="M377.65 797.13H388.25M382.95 791.83V802.43" stroke="#3970ad" stroke-width="1.9" fill="none"/>
<path d="M451.04 817.33H461.64M456.34 812.03V822.63" stroke="#3970ad" stroke-width="1.9" fill="none"/>
<path d="M524.43 823.15H535.02M529.73 817.85V828.45" stroke="#3970ad" stroke-width="1.9" fill="none"/>
<path d="M597.81 811.07H608.41M603.11 805.77V816.37" stroke="#3970ad" stroke-width="1.9" fill="none"/>
<path d="M671.2 780H681.8M676.5 774.7V785.3" stroke="#3970ad" stroke-width="1.9" fill="none"/>
<circle cx="162.79" cy="757.16" r="5.05" stroke="#d968cc" stroke-width="1.9" fill="none"/>
<circle cx="236.18" cy="710.06" r="5.05" stroke="#d968cc" stroke-width="1.9" fill="none"/>
<circle cx="309.56" cy="734.65" r="5.05" stroke="#d968cc" stroke-width="1.9" fill="none"/>
<circle cx="89.1" cy="779.8" r="5.05" stroke="#46a22d" stroke-width="1.9" fill="none"/>
<path d="M84 963.04H94.4M89.2 957.84V968.24M85.46 959.29L92.94 966.78M85.46 966.78L92.94 959.29" stroke="#3970ad" stroke-width="1.6" fill="none"/>
<path d="M89.3 873.25L94.4 880.25L89.3 887.25L84.2 880.25Z" stroke="#f07a1e" stroke-width="1.7" fill="none"/>
<path d="M89.4 567.58L95.7 578.38L83.1 578.38Z" stroke="#9a68d0" stroke-width="1.7" fill="none"/>
<rect x="198" y="567.5" width="468.4" height="114.5" fill="#fff" stroke="#262626" stroke-opacity="0.68" stroke-width="1.1"/>
<path d="M211 578.3H221.6M216.3 573V583.6" stroke="#3970ad" stroke-width="1.9" fill="none"/>
<circle cx="216.3" cy="597" r="5.05" stroke="#d968cc" stroke-width="1.9" fill="none"/>
<circle cx="216.3" cy="615.4" r="5.05" stroke="#46a22d" stroke-width="1.9" fill="none"/>
<path d="M211.1 634.1H221.5M216.3 628.9V639.3M212.56 630.36L220.04 637.84M212.56 637.84L220.04 630.36" stroke="#3970ad" stroke-width="1.6" fill="none"/>
<path d="M216.3 645.8L221.4 652.8L216.3 659.8L211.2 652.8Z" stroke="#f07a1e" stroke-width="1.7" fill="none"/>
<path d="M216.3 663.7L223.23 675.58L209.37 675.58Z" stroke="#9a68d0" stroke-width="1.7" fill="none"/>
<text x="233.7" y="583.7" font-size="14.2" text-anchor="start" fill="#262626" color="#262626" letter-spacing="0.1" >MLIP SQS</text>
<text x="233.7" y="602.4" font-size="14.2" text-anchor="start" fill="#262626" color="#262626" letter-spacing="0.1" >Inflection Detection SQS</text>
<text x="233.7" y="621.2" font-size="14.2" text-anchor="start" fill="#262626" color="#262626" letter-spacing="0.1" >Inflection Detection FCC Cr</text>
<text x="233.7" y="639.8" font-size="14.2" text-anchor="start" fill="#262626" color="#262626" letter-spacing="0.1" >BCC Cr</text>
<text x="233.7" y="658.4" font-size="14.2" text-anchor="start" fill="#262626" color="#262626" letter-spacing="0.1" >SGTE FCC Cr</text>
<text x="233.7" y="677.5" font-size="14.2" text-anchor="start" fill="#262626" color="#262626" letter-spacing="0.1" >Symmetry Constrained FCC Cr</text>
<path d="M437.5 578.3H468.2" stroke="#dc64c2" stroke-width="2"/>
<path d="M437.5 597.0H468.2" stroke="#46a22d" stroke-width="2"/>
<path d="M437.5 615.5H468.2" stroke="#3970ad" stroke-width="2" stroke-dasharray="7.6 6.8"/>
<path d="M437.5 634.4H468.2" stroke="#9450c0" stroke-width="2" stroke-dasharray="2.2 1.6"/>
<path d="M437.5 652.8H468.2" stroke="#933c36" stroke-width="2" stroke-dasharray="7.4 1.4 4.3 1.4"/>
<rect x="437.5" y="665.2" width="30.7" height="13.3" fill="#f5e6e8"/>
<text x="470.2" y="583.7" font-size="14.2" text-anchor="start" fill="#262626" color="#262626" letter-spacing="0.05" >Fit 1: ID SQS</text>
<text x="470.2" y="602.4" font-size="14.2" text-anchor="start" fill="#262626" color="#262626" letter-spacing="0.05" >Fit 2: ID FCC Cr + Stable SQS</text>
<text x="470.2" y="621.2" font-size="14.2" text-anchor="start" fill="#262626" color="#262626" letter-spacing="0.05" >Fit 3: ID FCC Cr + All SQS</text>
<text x="470.2" y="639.8" font-size="14.2" text-anchor="start" fill="#262626" color="#262626" letter-spacing="0.05" >Fit 4: SC FCC Cr + All SQS</text>
<text x="470.2" y="658.4" font-size="14.2" text-anchor="start" fill="#262626" color="#262626" letter-spacing="0.05" >Fit 5: Stable SQS</text>
<text x="470.2" y="677.5" font-size="14.2" text-anchor="start" fill="#262626" color="#262626" letter-spacing="0.05" >Mechanically Unstable</text>
<text x="1.8" y="1072.4" font-size="31" text-anchor="start" fill="#262626" color="#262626" letter-spacing="0.9" >(c)</text>
<path d="M88.9 1086.5H676.0V1193.2 L675.5 1193.2 L672.11 1194.4 L668.72 1195.61 L665.33 1196.85 L661.95 1198.1 L658.56 1199.37 L655.17 1200.66 L651.78 1201.96 L648.39 1203.29 L645 1204.62 L641.61 1205.98 L638.23 1207.35 L634.84 1208.74 L631.45 1210.14 L628.06 1211.56 L624.67 1212.99 L621.28 1214.44 L617.89 1215.9 L614.51 1217.38 L611.12 1218.87 L607.73 1220.37 L604.34 1221.89 L600.95 1223.42 L597.56 1224.96 L594.17 1226.52 L590.78 1228.09 L587.4 1229.67 L584.01 1231.26 L580.62 1232.87 L577.23 1234.48 L573.84 1236.11 L570.45 1237.75 L567.06 1239.4 L563.68 1241.05 L560.29 1242.72 L556.9 1244.4 L553.51 1246.09 L550.12 1247.79 L546.73 1249.49 L543.34 1251.21 L539.96 1252.93 L536.57 1254.66 L533.18 1256.4 L529.79 1258.15 L526.4 1259.9 L523.01 1261.66 L519.62 1263.43 L516.24 1265.21 L512.85 1266.99 L509.46 1268.78 L506.07 1270.57 L502.68 1272.37 L499.29 1274.17 L495.9 1275.98 L492.52 1277.79 L489.13 1279.61 L485.74 1281.43 L482.35 1283.26 L478.96 1285.09 L475.57 1286.92 L472.18 1288.76 L468.79 1290.6 L465.41 1292.44 L462.02 1294.29 L458.63 1296.13 L455.24 1297.98 L451.85 1299.83 L448.46 1301.68 L445.07 1303.53 L441.69 1305.39 L438.3 1307.24 L434.91 1309.09 L431.52 1310.95 L428.13 1312.8 L424.74 1314.65 L421.35 1316.51 L417.97 1318.36 L414.58 1320.21 L411.19 1322.05 L407.8 1323.9 L407.8 1323.9 L403.77 1320.12 L399.74 1316.38 L395.71 1312.68 L391.68 1309.01 L387.65 1305.37 L383.62 1301.77 L379.59 1298.2 L375.56 1294.67 L371.53 1291.17 L367.5 1287.71 L363.47 1284.27 L359.44 1280.87 L355.41 1277.5 L351.37 1274.17 L347.34 1270.86 L343.31 1267.59 L339.28 1264.34 L335.25 1261.12 L331.22 1257.94 L327.19 1254.78 L323.16 1251.65 L319.13 1248.55 L315.1 1245.48 L311.07 1242.43 L307.04 1239.42 L303.01 1236.43 L298.98 1233.46 L294.95 1230.52 L290.92 1227.61 L286.89 1224.72 L282.86 1221.85 L278.83 1219.01 L274.8 1216.2 L270.77 1213.4 L266.74 1210.63 L262.71 1207.89 L258.68 1205.16 L254.65 1202.46 L250.62 1199.78 L246.58 1197.12 L242.55 1194.48 L238.52 1191.86 L234.49 1189.26 L230.46 1186.67 L226.43 1184.11 L222.4 1181.57 L218.37 1179.04 L214.34 1176.54 L210.31 1174.05 L206.28 1171.57 L202.25 1169.12 L198.22 1166.67 L194.19 1164.25 L190.16 1161.84 L186.13 1159.45 L182.1 1157.06 L178.07 1154.7 L174.04 1152.35 L170.01 1150.01 L165.98 1147.68 L161.95 1145.37 L157.92 1143.07 L153.89 1140.78 L149.86 1138.5 L145.83 1136.23 L141.79 1133.97 L137.76 1131.73 L133.73 1129.49 L129.7 1127.26 L125.67 1125.04 L121.64 1122.83 L117.61 1120.63 L113.58 1118.43 L109.55 1116.25 L105.52 1114.06 L101.49 1111.89 L97.46 1109.72 L93.43 1107.56 L89.4 1105.4Z" fill="#f2fdb2"/>
<path d="M675.5 1193.2 L673.57 1195.06 L671.65 1196.89 L669.72 1198.7 L667.79 1200.49 L665.87 1202.26 L663.94 1204.01 L662.01 1205.74 L660.09 1207.46 L658.16 1209.15 L656.23 1210.83 L654.31 1212.5 L652.38 1214.14 L650.45 1215.78 L648.53 1217.4 L646.6 1219 L644.67 1220.59 L642.75 1222.17 L640.82 1223.74 L638.89 1225.3 L636.97 1226.85 L635.04 1228.38 L633.12 1229.91 L631.19 1231.43 L629.26 1232.95 L627.34 1234.45 L625.41 1235.95 L623.48 1237.45 L621.56 1238.94 L619.63 1240.43 L617.7 1241.91 L615.78 1243.39 L613.85 1244.86 L611.92 1246.34 L610 1247.81 L608.07 1249.29 L606.14 1250.76 L604.22 1252.24 L602.29 1253.72 L600.36 1255.2 L598.44 1256.68 L596.51 1258.17 L594.58 1259.66 L592.66 1261.16 L590.73 1262.66 L588.8 1264.17 L586.88 1265.69 L584.95 1267.21 L583.02 1268.74 L581.1 1270.29 L579.17 1271.84 L577.24 1273.4 L575.32 1274.97 L573.39 1276.56 L571.46 1278.16 L569.54 1279.77 L567.61 1281.39 L565.68 1283.03 L563.76 1284.68 L561.83 1286.35 L559.91 1288.04 L557.98 1289.74 L556.05 1291.47 L554.13 1293.21 L552.2 1294.96 L550.27 1296.74 L548.35 1298.54 L546.42 1300.36 L544.49 1302.21 L542.57 1304.07 L540.64 1305.96 L538.71 1307.87 L536.79 1309.81 L534.86 1311.77 L532.93 1313.75 L531.01 1315.77 L529.08 1317.81 L527.15 1319.88 L525.23 1321.97 L523.3 1324.1 L523.3 1324.1 L524.25 1327.7 L525.21 1331.29 L526.19 1334.89 L527.19 1338.49 L528.2 1342.08 L529.23 1345.68 L530.27 1349.28 L531.33 1352.87 L532.41 1356.47 L533.5 1360.07 L534.61 1363.66 L535.74 1367.26 L536.88 1370.86 L538.03 1374.45 L539.2 1378.05 L540.39 1381.64 L541.6 1385.24 L542.82 1388.84 L544.05 1392.43 L545.31 1396.03 L546.58 1399.63 L547.86 1403.22 L549.16 1406.82 L550.48 1410.42 L551.81 1414.01 L553.16 1417.61 L554.52 1421.21 L555.9 1424.8 L557.3 1428.4 L558.8 1430.87 L560.28 1433.35 L561.72 1435.82 L563.13 1438.29 L564.51 1440.77 L565.86 1443.24 L567.18 1445.72 L568.47 1448.19 L569.72 1450.66 L570.95 1453.14 L572.15 1455.61 L573.31 1458.08 L574.44 1460.56 L575.55 1463.03 L576.62 1465.51 L577.66 1467.98 L578.67 1470.45 L579.65 1472.93 L580.6 1475.4 L676.0 1475.4V1193.2Z" fill="#e8f0f7"/>
<path d="M89.4 1105.4 L89.84 1109.11 L90.27 1112.82 L90.7 1116.53 L91.12 1120.23 L91.54 1123.94 L91.96 1127.65 L92.37 1131.36 L92.77 1135.07 L93.17 1138.78 L93.57 1142.48 L93.96 1146.19 L94.34 1149.9 L94.72 1153.61 L95.09 1157.32 L95.46 1161.03 L95.82 1164.74 L96.17 1168.44 L96.52 1172.15 L96.86 1175.86 L97.2 1179.57 L97.53 1183.28 L97.85 1186.99 L98.17 1190.69 L98.48 1194.4 L98.78 1198.11 L99.08 1201.82 L99.37 1205.53 L99.65 1209.24 L99.92 1212.95 L100.19 1216.65 L100.45 1220.36 L100.7 1224.07 L100.94 1227.78 L101.18 1231.49 L101.4 1235.2 L101.62 1238.91 L101.84 1242.61 L102.04 1246.32 L102.23 1250.03 L102.42 1253.74 L102.6 1257.45 L102.77 1261.16 L102.93 1264.86 L103.08 1268.57 L103.22 1272.28 L103.35 1275.99 L103.48 1279.7 L103.59 1283.41 L103.7 1287.12 L103.79 1290.82 L103.88 1294.53 L103.95 1298.24 L104.02 1301.95 L104.07 1305.66 L104.12 1309.37 L104.16 1313.07 L104.18 1316.78 L104.2 1320.49 L104.2 1324.2 L104.2 1324.2 L103.62 1326.76 L103.04 1329.33 L102.46 1331.89 L101.88 1334.45 L101.3 1337.01 L100.72 1339.58 L100.15 1342.14 L99.58 1344.7 L99.03 1347.26 L98.48 1349.83 L97.94 1352.39 L97.41 1354.95 L96.9 1357.52 L96.4 1360.08 L95.91 1362.64 L95.44 1365.2 L94.98 1367.77 L94.54 1370.33 L94.11 1372.89 L93.71 1375.45 L93.32 1378.02 L92.94 1380.58 L92.59 1383.14 L92.26 1385.71 L91.94 1388.27 L91.65 1390.83 L91.37 1393.39 L91.11 1395.96 L90.87 1398.52 L90.65 1401.08 L90.45 1403.64 L90.26 1406.21 L90.1 1408.77 L89.95 1411.33 L89.82 1413.89 L89.7 1416.46 L89.61 1419.02 L89.52 1421.58 L89.45 1424.15 L89.4 1426.71 L89.35 1429.27 L89.32 1431.83 L89.3 1434.4 L89.29 1436.96 L89.29 1439.52 L89.29 1442.08 L89.3 1444.65 L89.32 1447.21 L89.33 1449.77 L89.35 1452.34 L89.37 1454.9 L89.39 1457.46 L89.4 1460.02 L89.41 1462.59 L89.41 1465.15 L89.4 1467.71 L89.38 1470.27 L89.35 1472.84 L89.3 1475.4Z" fill="#f5e6e8"/>
<path d="M206.32 1475.4v4.8M323.74 1475.4v4.8M441.16 1475.4v4.8M558.58 1475.4v4.8M88.9 1475.4h-7.2M88.9 1378.18h-7.2M88.9 1280.95h-7.2M88.9 1183.72h-7.2M88.9 1086.5h-7.2" stroke="#8f8f8f" stroke-width="1.2" fill="none"/>
<rect x="88.9" y="1086.5" width="587.1" height="388.9" fill="none" stroke="#8f8f8f" stroke-width="1.2"/>
<g fill="none" stroke="#3c2cff" stroke-width="1.25" stroke-linejoin="round">
<path d="M89.4 1105.4 L93.43 1107.56 L97.46 1109.72 L101.49 1111.89 L105.52 1114.06 L109.55 1116.25 L113.58 1118.43 L117.61 1120.63 L121.64 1122.83 L125.67 1125.04 L129.7 1127.26 L133.73 1129.49 L137.76 1131.73 L141.79 1133.97 L145.83 1136.23 L149.86 1138.5 L153.89 1140.78 L157.92 1143.07 L161.95 1145.37 L165.98 1147.68 L170.01 1150.01 L174.04 1152.35 L178.07 1154.7 L182.1 1157.06 L186.13 1159.45 L190.16 1161.84 L194.19 1164.25 L198.22 1166.67 L202.25 1169.12 L206.28 1171.57 L210.31 1174.05 L214.34 1176.54 L218.37 1179.04 L222.4 1181.57 L226.43 1184.11 L230.46 1186.67 L234.49 1189.26 L238.52 1191.86 L242.55 1194.48 L246.58 1197.12 L250.62 1199.78 L254.65 1202.46 L258.68 1205.16 L262.71 1207.89 L266.74 1210.63 L270.77 1213.4 L274.8 1216.2 L278.83 1219.01 L282.86 1221.85 L286.89 1224.72 L290.92 1227.61 L294.95 1230.52 L298.98 1233.46 L303.01 1236.43 L307.04 1239.42 L311.07 1242.43 L315.1 1245.48 L319.13 1248.55 L323.16 1251.65 L327.19 1254.78 L331.22 1257.94 L335.25 1261.12 L339.28 1264.34 L343.31 1267.59 L347.34 1270.86 L351.37 1274.17 L355.41 1277.5 L359.44 1280.87 L363.47 1284.27 L367.5 1287.71 L371.53 1291.17 L375.56 1294.67 L379.59 1298.2 L383.62 1301.77 L387.65 1305.37 L391.68 1309.01 L395.71 1312.68 L399.74 1316.38 L403.77 1320.12 L407.8 1323.9 L411.19 1322.05 L414.58 1320.21 L417.97 1318.36 L421.35 1316.51 L424.74 1314.65 L428.13 1312.8 L431.52 1310.95 L434.91 1309.09 L438.3 1307.24 L441.69 1305.39 L445.07 1303.53 L448.46 1301.68 L451.85 1299.83 L455.24 1297.98 L458.63 1296.13 L462.02 1294.29 L465.41 1292.44 L468.79 1290.6 L472.18 1288.76 L475.57 1286.92 L478.96 1285.09 L482.35 1283.26 L485.74 1281.43 L489.13 1279.61 L492.52 1277.79 L495.9 1275.98 L499.29 1274.17 L502.68 1272.37 L506.07 1270.57 L509.46 1268.78 L512.85 1266.99 L516.24 1265.21 L519.62 1263.43 L523.01 1261.66 L526.4 1259.9 L529.79 1258.15 L533.18 1256.4 L536.57 1254.66 L539.96 1252.93 L543.34 1251.21 L546.73 1249.49 L550.12 1247.79 L553.51 1246.09 L556.9 1244.4 L560.29 1242.72 L563.68 1241.05 L567.06 1239.4 L570.45 1237.75 L573.84 1236.11 L577.23 1234.48 L580.62 1232.87 L584.01 1231.26 L587.4 1229.67 L590.78 1228.09 L594.17 1226.52 L597.56 1224.96 L600.95 1223.42 L604.34 1221.89 L607.73 1220.37 L611.12 1218.87 L614.51 1217.38 L617.89 1215.9 L621.28 1214.44 L624.67 1212.99 L628.06 1211.56 L631.45 1210.14 L634.84 1208.74 L638.23 1207.35 L641.61 1205.98 L645 1204.62 L648.39 1203.29 L651.78 1201.96 L655.17 1200.66 L658.56 1199.37 L661.95 1198.1 L665.33 1196.85 L668.72 1195.61 L672.11 1194.4 L675.5 1193.2"/>
<path d="M675.5 1193.2 L673.57 1195.06 L671.65 1196.89 L669.72 1198.7 L667.79 1200.49 L665.87 1202.26 L663.94 1204.01 L662.01 1205.74 L660.09 1207.46 L658.16 1209.15 L656.23 1210.83 L654.31 1212.5 L652.38 1214.14 L650.45 1215.78 L648.53 1217.4 L646.6 1219 L644.67 1220.59 L642.75 1222.17 L640.82 1223.74 L638.89 1225.3 L636.97 1226.85 L635.04 1228.38 L633.12 1229.91 L631.19 1231.43 L629.26 1232.95 L627.34 1234.45 L625.41 1235.95 L623.48 1237.45 L621.56 1238.94 L619.63 1240.43 L617.7 1241.91 L615.78 1243.39 L613.85 1244.86 L611.92 1246.34 L610 1247.81 L608.07 1249.29 L606.14 1250.76 L604.22 1252.24 L602.29 1253.72 L600.36 1255.2 L598.44 1256.68 L596.51 1258.17 L594.58 1259.66 L592.66 1261.16 L590.73 1262.66 L588.8 1264.17 L586.88 1265.69 L584.95 1267.21 L583.02 1268.74 L581.1 1270.29 L579.17 1271.84 L577.24 1273.4 L575.32 1274.97 L573.39 1276.56 L571.46 1278.16 L569.54 1279.77 L567.61 1281.39 L565.68 1283.03 L563.76 1284.68 L561.83 1286.35 L559.91 1288.04 L557.98 1289.74 L556.05 1291.47 L554.13 1293.21 L552.2 1294.96 L550.27 1296.74 L548.35 1298.54 L546.42 1300.36 L544.49 1302.21 L542.57 1304.07 L540.64 1305.96 L538.71 1307.87 L536.79 1309.81 L534.86 1311.77 L532.93 1313.75 L531.01 1315.77 L529.08 1317.81 L527.15 1319.88 L525.23 1321.97 L523.3 1324.1 L524.25 1327.7 L525.21 1331.29 L526.19 1334.89 L527.19 1338.49 L528.2 1342.08 L529.23 1345.68 L530.27 1349.28 L531.33 1352.87 L532.41 1356.47 L533.5 1360.07 L534.61 1363.66 L535.74 1367.26 L536.88 1370.86 L538.03 1374.45 L539.2 1378.05 L540.39 1381.64 L541.6 1385.24 L542.82 1388.84 L544.05 1392.43 L545.31 1396.03 L546.58 1399.63 L547.86 1403.22 L549.16 1406.82 L550.48 1410.42 L551.81 1414.01 L553.16 1417.61 L554.52 1421.21 L555.9 1424.8 L557.3 1428.4 L558.8 1430.87 L560.28 1433.35 L561.72 1435.82 L563.13 1438.29 L564.51 1440.77 L565.86 1443.24 L567.18 1445.72 L568.47 1448.19 L569.72 1450.66 L570.95 1453.14 L572.15 1455.61 L573.31 1458.08 L574.44 1460.56 L575.55 1463.03 L576.62 1465.51 L577.66 1467.98 L578.67 1470.45 L579.65 1472.93 L580.6 1475.4"/>
<path d="M89.4 1105.4 L89.84 1109.11 L90.27 1112.82 L90.7 1116.53 L91.12 1120.23 L91.54 1123.94 L91.96 1127.65 L92.37 1131.36 L92.77 1135.07 L93.17 1138.78 L93.57 1142.48 L93.96 1146.19 L94.34 1149.9 L94.72 1153.61 L95.09 1157.32 L95.46 1161.03 L95.82 1164.74 L96.17 1168.44 L96.52 1172.15 L96.86 1175.86 L97.2 1179.57 L97.53 1183.28 L97.85 1186.99 L98.17 1190.69 L98.48 1194.4 L98.78 1198.11 L99.08 1201.82 L99.37 1205.53 L99.65 1209.24 L99.92 1212.95 L100.19 1216.65 L100.45 1220.36 L100.7 1224.07 L100.94 1227.78 L101.18 1231.49 L101.4 1235.2 L101.62 1238.91 L101.84 1242.61 L102.04 1246.32 L102.23 1250.03 L102.42 1253.74 L102.6 1257.45 L102.77 1261.16 L102.93 1264.86 L103.08 1268.57 L103.22 1272.28 L103.35 1275.99 L103.48 1279.7 L103.59 1283.41 L103.7 1287.12 L103.79 1290.82 L103.88 1294.53 L103.95 1298.24 L104.02 1301.95 L104.07 1305.66 L104.12 1309.37 L104.16 1313.07 L104.18 1316.78 L104.2 1320.49 L104.2 1324.2 L103.62 1326.76 L103.04 1329.33 L102.46 1331.89 L101.88 1334.45 L101.3 1337.01 L100.72 1339.58 L100.15 1342.14 L99.58 1344.7 L99.03 1347.26 L98.48 1349.83 L97.94 1352.39 L97.41 1354.95 L96.9 1357.52 L96.4 1360.08 L95.91 1362.64 L95.44 1365.2 L94.98 1367.77 L94.54 1370.33 L94.11 1372.89 L93.71 1375.45 L93.32 1378.02 L92.94 1380.58 L92.59 1383.14 L92.26 1385.71 L91.94 1388.27 L91.65 1390.83 L91.37 1393.39 L91.11 1395.96 L90.87 1398.52 L90.65 1401.08 L90.45 1403.64 L90.26 1406.21 L90.1 1408.77 L89.95 1411.33 L89.82 1413.89 L89.7 1416.46 L89.61 1419.02 L89.52 1421.58 L89.45 1424.15 L89.4 1426.71 L89.35 1429.27 L89.32 1431.83 L89.3 1434.4 L89.29 1436.96 L89.29 1439.52 L89.29 1442.08 L89.3 1444.65 L89.32 1447.21 L89.33 1449.77 L89.35 1452.34 L89.37 1454.9 L89.39 1457.46 L89.4 1460.02 L89.41 1462.59 L89.41 1465.15 L89.4 1467.71 L89.38 1470.27 L89.35 1472.84 L89.3 1475.4"/>
<path d="M104.2 1324.3H523.3"/>
</g>
<text x="89.08" y="1503.9" font-size="17.6" text-anchor="middle" fill="#262626" color="#262626" letter-spacing="0.35" >0</text>
<text x="206.5" y="1503.9" font-size="17.6" text-anchor="middle" fill="#262626" color="#262626" letter-spacing="0.35" >0.2</text>
<text x="323.92" y="1503.9" font-size="17.6" text-anchor="middle" fill="#262626" color="#262626" letter-spacing="0.35" >0.4</text>
<text x="441.34" y="1503.9" font-size="17.6" text-anchor="middle" fill="#262626" color="#262626" letter-spacing="0.35" >0.6</text>
<text x="558.75" y="1503.9" font-size="17.6" text-anchor="middle" fill="#262626" color="#262626" letter-spacing="0.35" >0.8</text>
<text x="676.17" y="1503.9" font-size="17.6" text-anchor="middle" fill="#262626" color="#262626" letter-spacing="0.35" >1</text>
<text transform="translate(78.5 1480.2) scale(1.04 1)" font-size="14.6" text-anchor="end" fill="#111" color="#111" >0</text>
<text transform="translate(78.5 1382.98) scale(1.04 1)" font-size="14.6" text-anchor="end" fill="#111" color="#111" >500</text>
<text transform="translate(78.5 1285.75) scale(1.04 1)" font-size="14.6" text-anchor="end" fill="#111" color="#111" >1000</text>
<text transform="translate(78.5 1188.52) scale(1.04 1)" font-size="14.6" text-anchor="end" fill="#111" color="#111" >1500</text>
<text transform="translate(78.5 1091.3) scale(1.04 1)" font-size="14.6" text-anchor="end" fill="#111" color="#111" >2000</text>
<text x="383" y="1529.9" font-size="19.6" text-anchor="middle" fill="#262626" color="#262626" letter-spacing="0.2" >x(Ni)</text>
<text transform="translate(355.6 1158.7) scale(1.03 1)" font-size="19.2" text-anchor="middle" fill="#111" color="#111" >Liquid</text>
<text transform="translate(596.1 1350.6) scale(1.03 1)" font-size="19.2" text-anchor="middle" fill="#111" color="#111" >FCC</text>
<text transform="translate(59.3 1234.7) scale(1.02 1)" font-size="19.2" text-anchor="middle" fill="#111" color="#111" >BCC</text>
<path d="M77.9 1239.3L94.6 1252.3" stroke="#333" stroke-width="1.2"/>
<text transform="translate(33.6 1285.6) rotate(-90)" font-size="19.5" text-anchor="middle" fill="#111" color="#111" textLength="44.2" lengthAdjust="spacingAndGlyphs">T(°C)</text>
</g>
</svg>
</body></html>
